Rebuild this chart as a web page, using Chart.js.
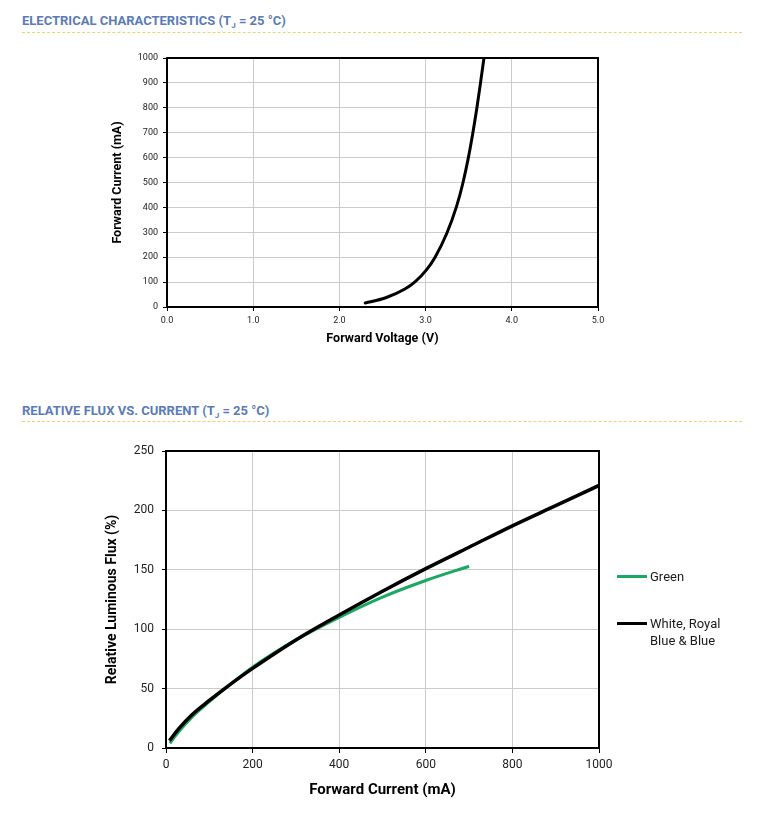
<!DOCTYPE html>
<html>
<head>
<meta charset="utf-8">
<script src="https://cdn.jsdelivr.net/npm/chart.js@4/dist/chart.umd.min.js"></script>
<style>
  body { margin: 0; background: #fff; width: 758px; height: 816px; position: relative; overflow: hidden; font-family: Roboto, "Noto Sans", sans-serif; }
  .hdr { position: absolute; left: 22px; font-size: 13px; font-weight: bold; color: #5b7bb6; line-height: 16px; white-space: nowrap; }
  .hdr sub { font-size: 8px; vertical-align: -3px; line-height: 0; }
  .rule { position: absolute; left: 22px; width: 720px; height: 0; border-top: 1px dashed #f0d36a; }
  .box { position: absolute; }
  .leg-line { position: absolute; left: 617px; width: 30px; height: 3px; }
  .leg-text { position: absolute; left: 650px; font-size: 13px; color: #1a1a1a; line-height: 17px; }
</style>
</head>
<body>
<div class="hdr" style="top:13px">ELECTRICAL CHARACTERISTICS (T<sub>J</sub> = 25 °C)</div>
<div class="rule" style="top:32px"></div>
<div class="box" style="left:100px;top:48px;width:530px;height:310px"><canvas id="ivChart" width="530" height="310"></canvas></div>

<div class="hdr" style="top:403px">RELATIVE FLUX VS. CURRENT (T<sub>J</sub> = 25 °C)</div>
<div class="rule" style="top:421px"></div>
<div class="box" style="left:90px;top:436px;width:520px;height:374px"><canvas id="fluxChart" width="540" height="374"></canvas></div>

<div class="leg-line" id="legGreen" style="top:575px"></div>
<div class="leg-text" style="top:568px">Green</div>
<div class="leg-line" id="legBlack" style="top:622px"></div>
<div class="leg-text" style="top:615px">White, Royal<br>Blue &amp; Blue</div>

<script>
// forward voltage (V) vs forward current (mA)
const voltage = [2.30, 2.53, 2.76, 2.88, 3.01, 3.11, 3.245, 3.36, 3.43, 3.495, 3.546, 3.593, 3.635, 3.677];
const current = [16, 36, 72, 102, 149, 200, 295, 405, 494, 598, 695, 795, 895, 1000];

// relative luminous flux (%) vs forward current (mA)
const whiteCurrent = [8, 30, 60, 100, 150, 200, 300, 400, 500, 600, 700, 800, 900, 1000];
const whiteFlux = [6.2, 16.5, 28, 40, 54, 67, 91, 112, 132, 151, 169, 187, 204, 221];
const greenCurrent = [9, 30, 60, 100, 150, 200, 300, 400, 500, 600, 700];
const greenFlux = [4, 14, 26, 39, 54, 68, 91, 110, 127, 141, 153];

const greenColor = "#1ba862";
const blackColor = "#000000";
const gridColor = "#cbcbcb";

document.getElementById("legGreen").style.background = greenColor;
document.getElementById("legBlack").style.background = blackColor;

const toPoints = (xs, ys) => xs.map((x, i) => ({ x, y: ys[i] }));

// fixed axis sizes, no extra room for overhanging tick labels
const fixHeight = (h) => (s) => { s.height = h; s.paddingLeft = 0; s.paddingRight = 0; };
const fixWidth = (w) => (s) => { s.width = w; s.paddingTop = 0; s.paddingBottom = 0; };

const frame = {
  id: "frame",
  afterDraw(chart) {
    const { ctx, chartArea: a } = chart;
    ctx.save();
    ctx.strokeStyle = "#000";
    ctx.lineWidth = 2;
    ctx.strokeRect(a.left, a.top, a.right - a.left, a.bottom - a.top);
    ctx.restore();
  },
};

new Chart(document.getElementById("ivChart"), {
  type: "line",
  data: {
    datasets: [{
      data: toPoints(voltage, current),
      borderColor: blackColor,
      borderWidth: 3,
      borderCapStyle: "round",
      pointRadius: 0,
      cubicInterpolationMode: "monotone",
    }],
  },
  options: {
    responsive: false,
    animation: false,
    devicePixelRatio: 1,
    layout: { padding: { top: 10, right: 32, left: 0, bottom: 0 } },
    plugins: { legend: { display: false }, tooltip: { enabled: false } },
    scales: {
      x: {
        type: "linear", min: 0, max: 5,
        afterFit: fixHeight(51),
        ticks: { stepSize: 1, padding: 4, color: "#222", font: { family: "Roboto", size: 9 },
          callback: (v) => v.toFixed(1) },
        grid: { color: gridColor, tickLength: 4, tickColor: "#000" },
        border: { display: false },
        title: { display: true, text: "Forward Voltage (V)", color: "#000",
          font: { family: "Roboto", size: 12.5, weight: "bold" }, padding: { top: 0, bottom: 12 } },
      },
      y: {
        min: 0, max: 1000,
        afterFit: fixWidth(67),
        ticks: { stepSize: 100, padding: 5, color: "#222", font: { family: "Roboto", size: 9 },
          callback: (v) => String(v) },
        grid: { color: gridColor, tickLength: 4, tickColor: "#000" },
        border: { display: false },
        title: { display: true, text: "Forward Current (mA)", color: "#000",
          font: { family: "Roboto", size: 12.5, weight: "bold" }, padding: { top: 10, bottom: 0 } },
      },
    },
  },
  plugins: [frame],
});

new Chart(document.getElementById("fluxChart"), {
  type: "line",
  data: {
    datasets: [
      {
        label: "White, Royal Blue & Blue",
        data: toPoints(whiteCurrent, whiteFlux),
        borderColor: blackColor,
        borderWidth: 3.5,
        pointRadius: 0,
        cubicInterpolationMode: "monotone",
        order: 1,
      },
      {
        label: "Green",
        data: toPoints(greenCurrent, greenFlux),
        borderColor: greenColor,
        borderWidth: 3,
        pointRadius: 0,
        cubicInterpolationMode: "monotone",
        order: 2,
      },
    ],
  },
  options: {
    responsive: false,
    animation: false,
    devicePixelRatio: 1,
    layout: { padding: { top: 15, right: 31, left: 0, bottom: 0 } },
    plugins: { legend: { display: false }, tooltip: { enabled: false } },
    scales: {
      x: {
        type: "linear", min: 0, max: 1000,
        afterFit: fixHeight(62),
        ticks: { stepSize: 200, padding: 5, color: "#222", font: { family: "Roboto", size: 12 },
          callback: (v) => String(v) },
        grid: { color: gridColor, tickLength: 5, tickColor: "#000" },
        border: { display: false },
        title: { display: true, text: "Forward Current (mA)", color: "#000",
          font: { family: "Roboto", size: 15, weight: "bold" }, padding: { top: 0, bottom: 11 } },
      },
      y: {
        min: 0, max: 250,
        afterFit: fixWidth(76),
        ticks: { stepSize: 50, padding: 8, color: "#222", font: { family: "Roboto", size: 12 } },
        grid: { color: gridColor, tickLength: 4, tickColor: "#000" },
        border: { display: false },
        title: { display: true, text: "Relative Luminous Flux (%)", color: "#000",
          font: { family: "Roboto", size: 14, weight: "bold" }, padding: { top: 14, bottom: 0 } },
      },
    },
  },
  plugins: [frame],
});
</script>
</body>
</html>
